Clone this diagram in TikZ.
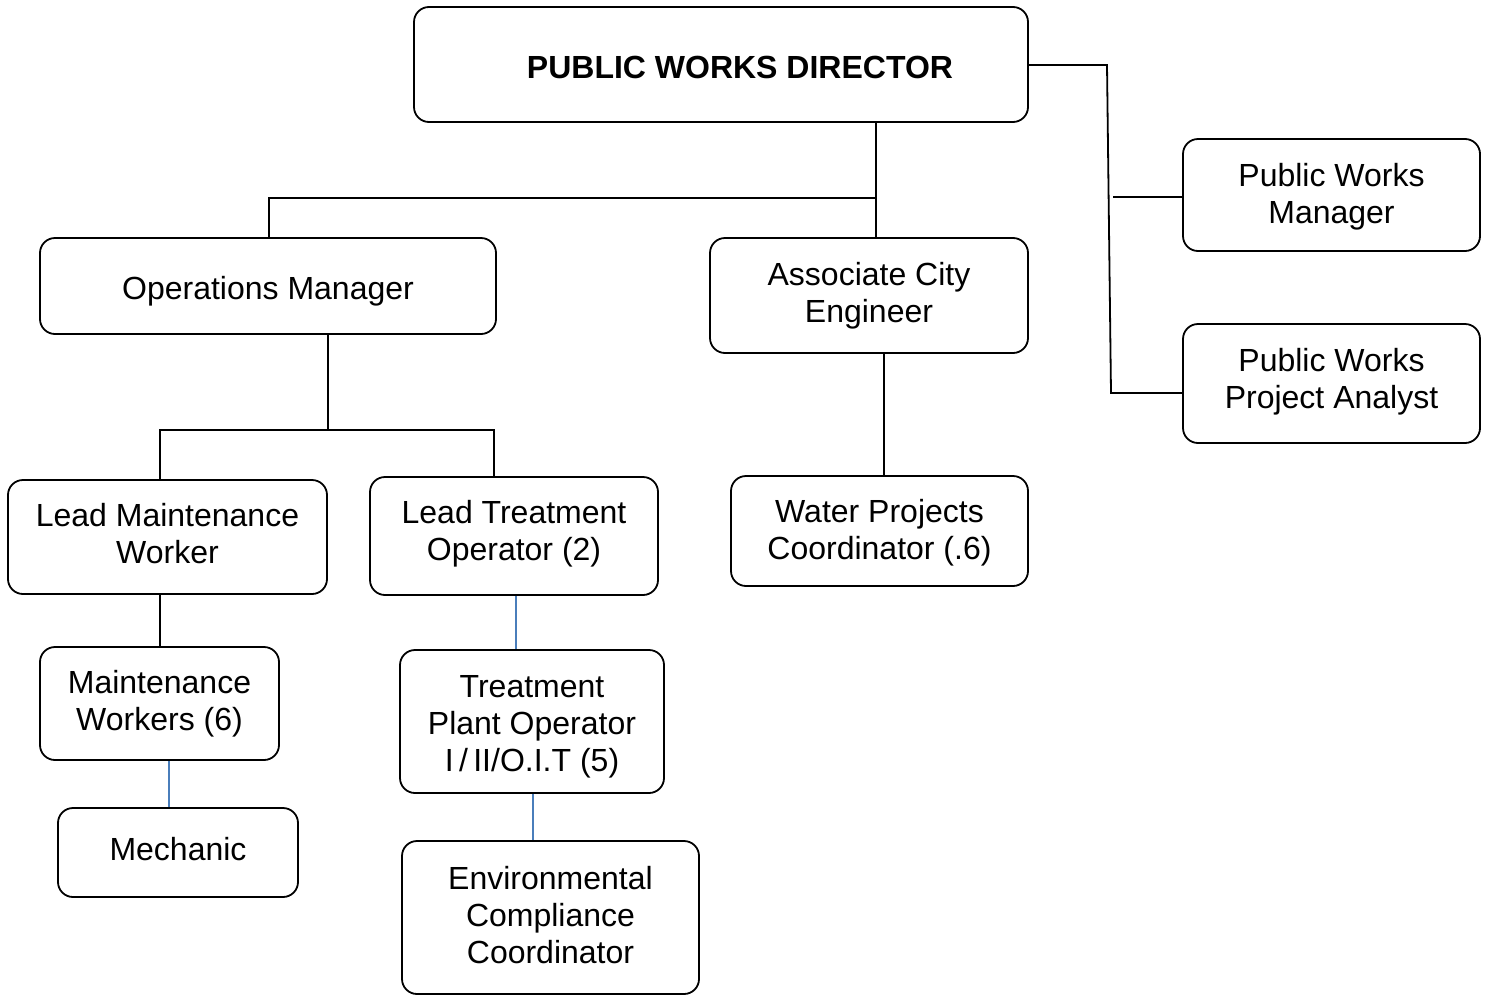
\documentclass[tikz,border=0pt]{standalone}
\usepackage{fontspec}
\setmainfont{Liberation Sans}
\definecolor{linkblue}{HTML}{4A7EBB}
\begin{document}
\begin{tikzpicture}[x=1pt,y=-1pt,
  box/.style={draw, line width=1.8pt, rounded corners=15pt, align=center,
    inner sep=0pt, font=\fontsize{32}{37}\selectfont},
  link/.style={draw, line width=1.8pt, black},
  bluelink/.style={draw, line width=1.3pt, linkblue}]
\useasboundingbox (0,0) rectangle (1490,996);

% boxes
\node[box, minimum width=614pt, minimum height=115pt] (dir) at (721,64.5) {};
\node[font=\fontsize{32}{37}\selectfont\bfseries] (dirtext) at (740,67) {PUBLIC WORKS DIRECTOR};
\node[box, minimum width=297pt, minimum height=112pt, text height=64.5pt] (pwm) at (1331.5,195) {Public Works\\Manager};
\node[box, minimum width=297pt, minimum height=119pt, text depth=10.7pt] (pwa) at (1331.5,383.5) {Public Works\\Project Analyst};
\node[box, minimum width=456pt, minimum height=96pt, text height=33pt] (ops) at (268,286) {Operations Manager};
\node[box, minimum width=318pt, minimum height=115pt] (ace) at (869,295.5) {Associate City\\Engineer};
\node[box, minimum width=319pt, minimum height=114pt, text depth=7pt] (lmw) at (167.5,537) {Lead Maintenance\\Worker};
\node[box, minimum width=288pt, minimum height=118pt, text depth=10.8pt] (lto) at (514,536) {Lead Treatment\\Operator (2)};
\node[box, minimum width=297pt, minimum height=110pt, text height=64.5pt] (wpc) at (879.5,531) {Water Projects\\Coordinator (.6)};
\node[box, minimum width=239pt, minimum height=113pt] (mw) at (159.5,703.5) {Maintenance\\Workers (6)};
\node[box, minimum width=240pt, minimum height=89pt, text depth=8pt] (mech) at (178,852.5) {Mechanic};
\node[box, minimum width=264pt, minimum height=143pt, text height=106pt] (tpo) at (532,721.5) {Treatment\\Plant Operator\\I\,/\,II/O.I.T (5)};
\node[box, minimum width=297pt, minimum height=153pt, text depth=5pt] (ecc) at (550.5,917.5) {Environmental\\Compliance\\Coordinator};

% director to operations manager and associate city engineer
\coordinate (dj) at (876,198);
\path[link] (876,0 |- dir.south) -- (876,0 |- ace.north);
\path[link] (dj) -- (269,198) -- (269,0 |- ops.north);

% director to the staff on the right
\coordinate (rj) at (1107,65);
\coordinate (rb) at (1111,393);
\coordinate (rtap) at (1113,197);
\path[link] (dir.east |- rj) -- (rj) -- (rb) -- (rb -| pwa.west);
\path[link] (rtap) -- (rtap -| pwm.west);

% operations manager to the two leads
\coordinate (oj) at (328,430);
\path[link] (oj |- ops.south) -- (oj);
\path[link] (160,0 |- lmw.north) -- (160,430) -- (494,430) -- (494,0 |- lto.north);

% associate city engineer to water projects coordinator
\path[link] (884,0 |- ace.south) -- (884,0 |- wpc.north);

% lower reporting lines
\path[link] (160,0 |- lmw.south) -- (160,0 |- mw.north);
\path[bluelink] (516,0 |- lto.south) -- (516,0 |- tpo.north);
\path[bluelink] (169,0 |- mw.south) -- (169,0 |- mech.north);
\path[bluelink] (533,0 |- tpo.south) -- (533,0 |- ecc.north);
\end{tikzpicture}
\end{document}
